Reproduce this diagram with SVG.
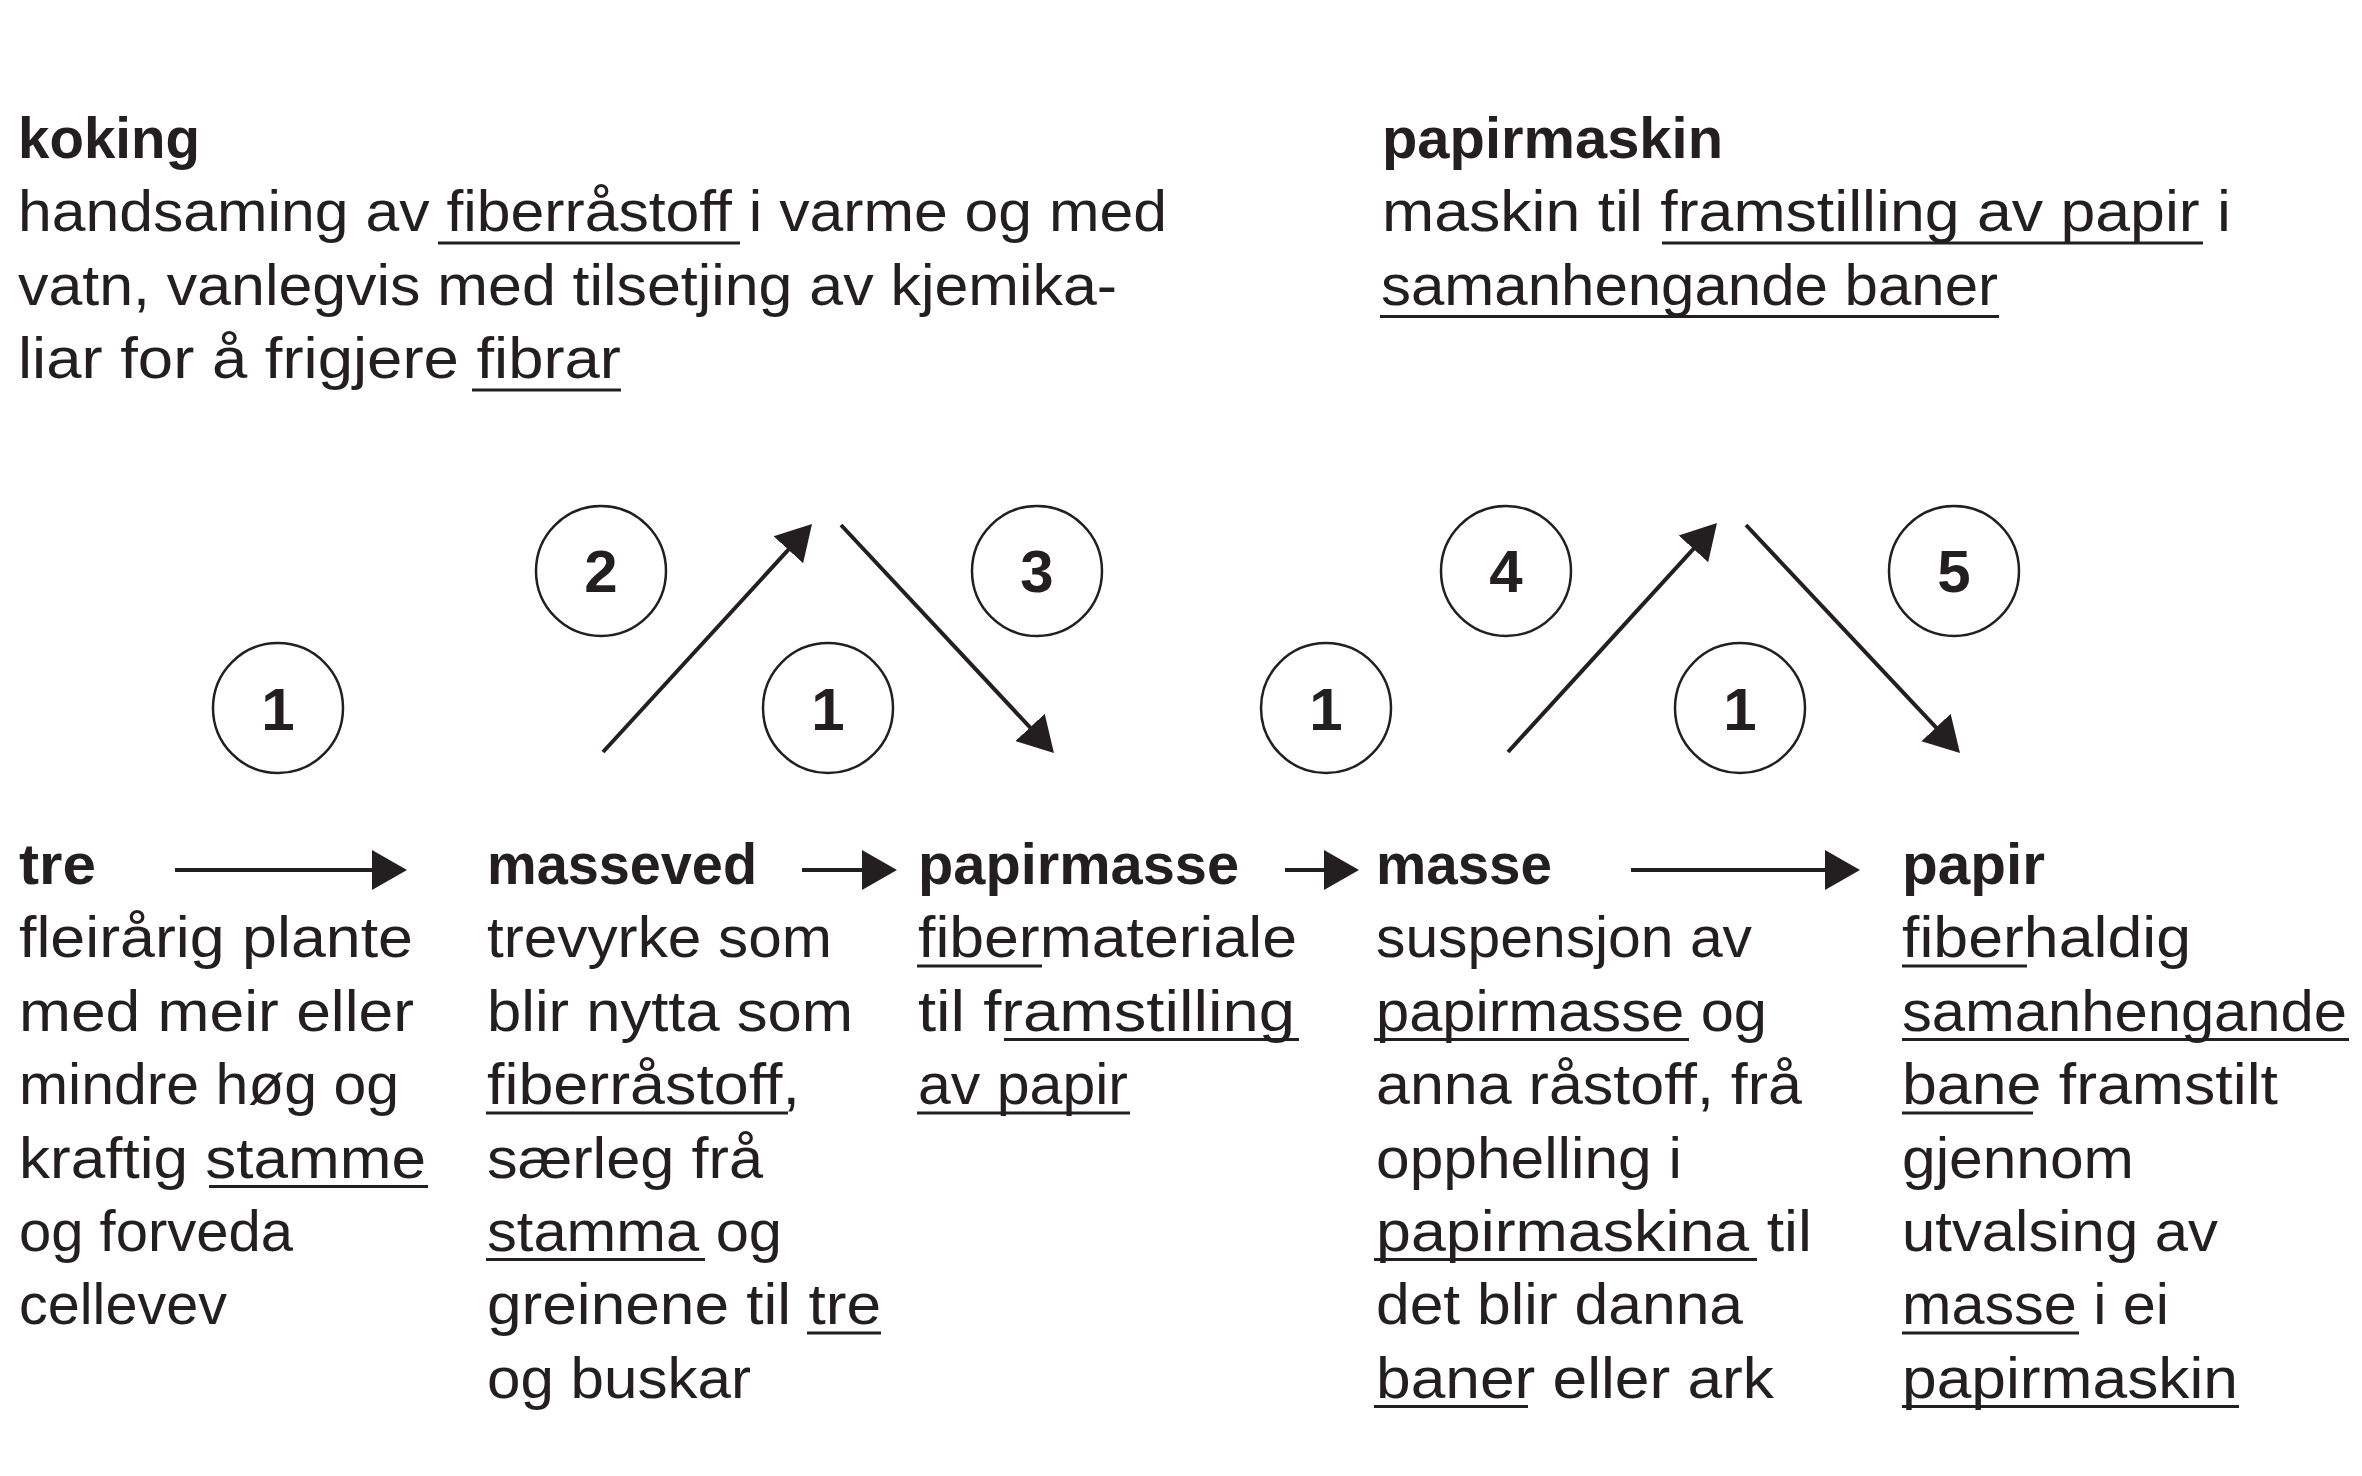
<svg xmlns="http://www.w3.org/2000/svg" width="2362" height="1476" viewBox="0 0 2362 1476">
<style>
text{font-family:"Liberation Sans",Arial,sans-serif;fill:#231f20}
.t{font-size:57px}
.b{font-size:58px;font-weight:bold}
.n{font-size:60px;font-weight:bold;text-anchor:middle}
.ul{stroke:#231f20;stroke-width:3}
.c{fill:none;stroke:#231f20;stroke-width:2.5}
.arr{stroke:#231f20;stroke-width:4;fill:none;marker-end:url(#ah)}
</style>
<defs>
<marker id="ah" markerUnits="userSpaceOnUse" markerWidth="40" markerHeight="44" viewBox="0 -22 40 44" refX="15" refY="0" orient="auto">
<path d="M0,-20 L35,0 L0,20 Z" fill="#231f20"/>
</marker>
</defs>
<rect width="2362" height="1476" fill="#fff"/>

<g id="node-koking">
<text class="b" x="18" y="157.5" textLength="182" lengthAdjust="spacingAndGlyphs">koking</text>
<text class="t" x="18" y="231" textLength="1149" lengthAdjust="spacingAndGlyphs">handsaming av fiberråstoff i varme og med</text>
<text class="t" x="18" y="304.5" textLength="1099" lengthAdjust="spacingAndGlyphs">vatn, vanlegvis med tilsetjing av kjemika-</text>
<text class="t" x="18" y="378" textLength="603" lengthAdjust="spacingAndGlyphs">liar for å frigjere fibrar</text>
<line class="ul" x1="438" y1="243" x2="740" y2="243"/>
<line class="ul" x1="472" y1="390" x2="621" y2="390"/>
</g>

<g id="node-papirmaskin">
<text class="b" x="1382" y="157.5" textLength="341" lengthAdjust="spacingAndGlyphs">papirmaskin</text>
<text class="t" x="1382" y="231" textLength="849" lengthAdjust="spacingAndGlyphs">maskin til framstilling av papir i</text>
<text class="t" x="1381" y="304.5" textLength="617" lengthAdjust="spacingAndGlyphs">samanhengande baner</text>
<line class="ul" x1="1662" y1="243" x2="2203" y2="243"/>
<line class="ul" x1="1380" y1="316.5" x2="1999" y2="316.5"/>
</g>

<g id="circle-1a"><circle class="c" cx="278" cy="708" r="65"/><text class="n" x="278" y="730">1</text></g>
<g id="circle-2"><circle class="c" cx="601" cy="571" r="65"/><text class="n" x="601" y="592">2</text></g>
<g id="circle-1b"><circle class="c" cx="828" cy="708" r="65"/><text class="n" x="828" y="730">1</text></g>
<g id="circle-3"><circle class="c" cx="1037" cy="571" r="65"/><text class="n" x="1037" y="592">3</text></g>
<g id="circle-1c"><circle class="c" cx="1326" cy="708" r="65"/><text class="n" x="1326" y="730">1</text></g>
<g id="circle-4"><circle class="c" cx="1506" cy="571" r="65"/><text class="n" x="1506" y="592">4</text></g>
<g id="circle-1d"><circle class="c" cx="1740" cy="708" r="65"/><text class="n" x="1740" y="730">1</text></g>
<g id="circle-5"><circle class="c" cx="1954" cy="571" r="65"/><text class="n" x="1954" y="592">5</text></g>

<g id="node-tre">
<text class="b" x="19" y="884" textLength="77" lengthAdjust="spacingAndGlyphs">tre</text>
<text class="t" x="19" y="957.4" textLength="394" lengthAdjust="spacingAndGlyphs">fleirårig plante</text>
<text class="t" x="19" y="1030.8" textLength="395" lengthAdjust="spacingAndGlyphs">med meir eller</text>
<text class="t" x="19" y="1104.2" textLength="380" lengthAdjust="spacingAndGlyphs">mindre høg og</text>
<text class="t" x="19" y="1177.6" textLength="407" lengthAdjust="spacingAndGlyphs">kraftig stamme</text>
<text class="t" x="19" y="1251" textLength="274" lengthAdjust="spacingAndGlyphs">og forveda</text>
<text class="t" x="19" y="1324.4" textLength="208" lengthAdjust="spacingAndGlyphs">cellevev</text>
<line class="ul" x1="209" y1="1186.5" x2="428" y2="1186.5"/>
</g>

<g id="node-masseved">
<text class="b" x="487" y="884" textLength="270" lengthAdjust="spacingAndGlyphs">masseved</text>
<text class="t" x="487" y="957.4" textLength="345" lengthAdjust="spacingAndGlyphs">trevyrke som</text>
<text class="t" x="487" y="1030.8" textLength="366" lengthAdjust="spacingAndGlyphs">blir nytta som</text>
<text class="t" x="487" y="1104.2" textLength="313" lengthAdjust="spacingAndGlyphs">fiberråstoff,</text>
<text class="t" x="487" y="1177.6" textLength="276" lengthAdjust="spacingAndGlyphs">særleg frå</text>
<text class="t" x="487" y="1251" textLength="295" lengthAdjust="spacingAndGlyphs">stamma og</text>
<text class="t" x="487" y="1324.4" textLength="394" lengthAdjust="spacingAndGlyphs">greinene til tre</text>
<text class="t" x="487" y="1397.8" textLength="264" lengthAdjust="spacingAndGlyphs">og buskar</text>
<line class="ul" x1="486" y1="1113" x2="788" y2="1113"/>
<line class="ul" x1="486" y1="1259.5" x2="705" y2="1259.5"/>
<line class="ul" x1="807" y1="1333" x2="881" y2="1333"/>
</g>

<g id="node-papirmasse">
<text class="b" x="918" y="884" textLength="321" lengthAdjust="spacingAndGlyphs">papirmasse</text>
<text class="t" x="918" y="957.4" textLength="379" lengthAdjust="spacingAndGlyphs">fibermateriale</text>
<text class="t" x="918" y="1030.8" textLength="377" lengthAdjust="spacingAndGlyphs">til framstilling</text>
<text class="t" x="918" y="1104.2" textLength="210" lengthAdjust="spacingAndGlyphs">av papir</text>
<line class="ul" x1="917" y1="966" x2="1042" y2="966"/>
<line class="ul" x1="1004" y1="1039.5" x2="1299" y2="1039.5"/>
<line class="ul" x1="917" y1="1113" x2="1130" y2="1113"/>
</g>

<g id="node-masse">
<text class="b" x="1376" y="884" textLength="176" lengthAdjust="spacingAndGlyphs">masse</text>
<text class="t" x="1376" y="957.4" textLength="376" lengthAdjust="spacingAndGlyphs">suspensjon av</text>
<text class="t" x="1376" y="1030.8" textLength="391" lengthAdjust="spacingAndGlyphs">papirmasse og</text>
<text class="t" x="1376" y="1104.2" textLength="426" lengthAdjust="spacingAndGlyphs">anna råstoff, frå</text>
<text class="t" x="1376" y="1177.6" textLength="306" lengthAdjust="spacingAndGlyphs">opphelling i</text>
<text class="t" x="1376" y="1251" textLength="436" lengthAdjust="spacingAndGlyphs">papirmaskina til</text>
<text class="t" x="1376" y="1324.4" textLength="367" lengthAdjust="spacingAndGlyphs">det blir danna</text>
<text class="t" x="1376" y="1397.8" textLength="398" lengthAdjust="spacingAndGlyphs">baner eller ark</text>
<line class="ul" x1="1374" y1="1039.5" x2="1689" y2="1039.5"/>
<line class="ul" x1="1374" y1="1259.5" x2="1757" y2="1259.5"/>
<line class="ul" x1="1374" y1="1406.5" x2="1528" y2="1406.5"/>
</g>

<g id="node-papir">
<text class="b" x="1902" y="884" textLength="143" lengthAdjust="spacingAndGlyphs">papir</text>
<text class="t" x="1902" y="957.4" textLength="289" lengthAdjust="spacingAndGlyphs">fiberhaldig</text>
<text class="t" x="1902" y="1030.8" textLength="445" lengthAdjust="spacingAndGlyphs">samanhengande</text>
<text class="t" x="1902" y="1104.2" textLength="376" lengthAdjust="spacingAndGlyphs">bane framstilt</text>
<text class="t" x="1902" y="1177.6" textLength="232" lengthAdjust="spacingAndGlyphs">gjennom</text>
<text class="t" x="1902" y="1251" textLength="316" lengthAdjust="spacingAndGlyphs">utvalsing av</text>
<text class="t" x="1902" y="1324.4" textLength="267" lengthAdjust="spacingAndGlyphs">masse i ei</text>
<text class="t" x="1902" y="1397.8" textLength="336" lengthAdjust="spacingAndGlyphs">papirmaskin</text>
<line class="ul" x1="1902" y1="966" x2="2027" y2="966"/>
<line class="ul" x1="1902" y1="1039.5" x2="2349" y2="1039.5"/>
<line class="ul" x1="1902" y1="1113" x2="2033" y2="1113"/>
<line class="ul" x1="1902" y1="1333" x2="2079" y2="1333"/>
<line class="ul" x1="1902" y1="1406.5" x2="2239" y2="1406.5"/>
</g>

<g id="connectors">
<line class="arr" x1="175" y1="870" x2="387" y2="870"/>
<line class="arr" x1="802" y1="870" x2="877" y2="870"/>
<line class="arr" x1="1285" y1="870" x2="1339" y2="870"/>
<line class="arr" x1="1631" y1="870" x2="1840" y2="870"/>
<line class="arr" x1="603" y1="752" x2="798.5" y2="538.7"/>
<line class="arr" x1="841" y1="525" x2="1040.3" y2="738.4"/>
<line class="arr" x1="1508" y1="752" x2="1703.5" y2="537.8"/>
<line class="arr" x1="1746" y1="525" x2="1946.3" y2="738.4"/>
</g>
</svg>
